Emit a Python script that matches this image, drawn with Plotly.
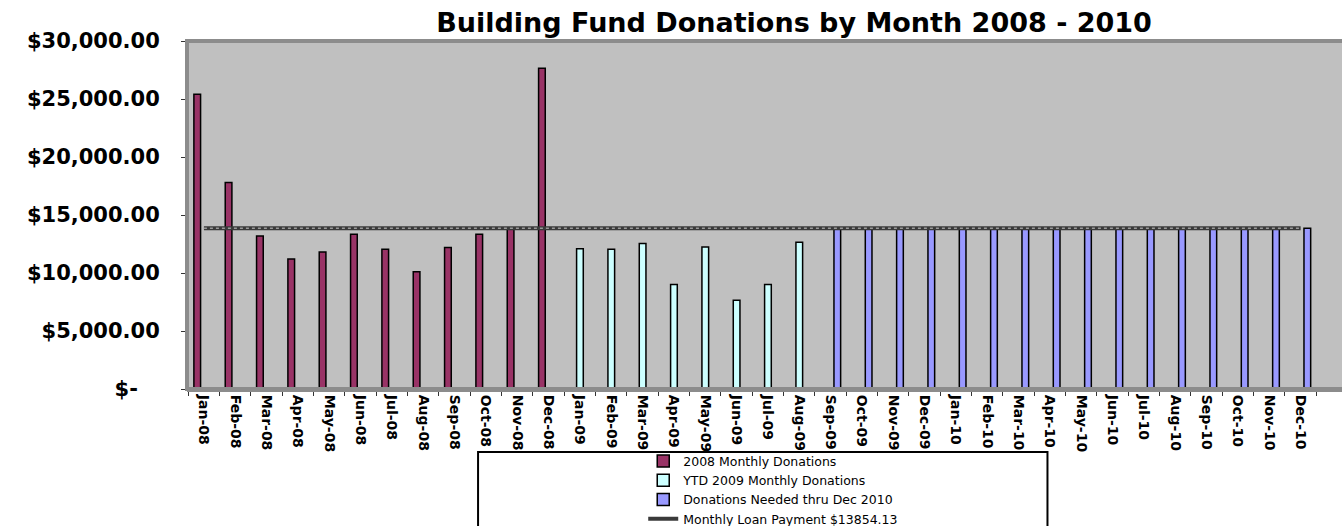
import plotly.graph_objects as go

months = ["Jan-08", "Feb-08", "Mar-08", "Apr-08", "May-08", "Jun-08", "Jul-08", "Aug-08",
          "Sep-08", "Oct-08", "Nov-08", "Dec-08",
          "Jan-09", "Feb-09", "Mar-09", "Apr-09", "May-09", "Jun-09", "Jul-09", "Aug-09",
          "Sep-09", "Oct-09", "Nov-09", "Dec-09",
          "Jan-10", "Feb-10", "Mar-10", "Apr-10", "May-10", "Jun-10", "Jul-10", "Aug-10",
          "Sep-10", "Oct-10", "Nov-10", "Dec-10"]

donations_2008 = [25400, 17800, 13200, 11200, 11800, 13350, 12050, 10100, 12200, 13350, 13900, 27650]
donations_2009_ytd = [12100, 12050, 12550, 9000, 12250, 7650, 9000, 12650]
donations_needed = [13854.13, 13854.13, 13854.13, 13854.13, 13854.13, 13854.13, 13854.13, 13854.13,
                    13854.13, 13854.13, 13854.13, 13854.13, 13854.13, 13854.13, 13854.13, 13854.13]
loan_payment = 13854.13

y_tick_values = [0, 5000, 10000, 15000, 20000, 25000, 30000]
y_tick_labels = ["$-\u00a0\u00a0\u00a0", "$5,000.00", "$10,000.00", "$15,000.00",
                 "$20,000.00", "$25,000.00", "$30,000.00"]

n = len(months)
n08 = len(donations_2008)
n09 = len(donations_2009_ytd)
s2008 = donations_2008 + [None] * (n - n08)
s2009 = [None] * n08 + donations_2009_ytd + [None] * (n - n08 - n09)
sneed = [None] * (n08 + n09) + donations_needed
sloan = [loan_payment] * n

fig = go.Figure()
fig.add_trace(go.Bar(x=months, y=s2008, name="2008 Monthly Donations",
                     marker=dict(color="#993366", line=dict(color="black", width=1.5))))
fig.add_trace(go.Bar(x=months, y=s2009, name="YTD 2009 Monthly Donations",
                     marker=dict(color="#CCFFFF", line=dict(color="black", width=1.5))))
fig.add_trace(go.Bar(x=months, y=sneed, name="Donations Needed thru Dec 2010",
                     marker=dict(color="#9999FF", line=dict(color="black", width=1.5))))
fig.add_trace(go.Scatter(x=months, y=sloan, mode="lines",
                         name="Monthly Loan Payment $13854.13",
                         line=dict(color="#3a3a3a", width=4)))
fig.add_trace(go.Scatter(x=months, y=sloan, mode="lines", showlegend=False,
                         line=dict(color="#9a9a9a", width=1.5, dash="dot"),
                         hoverinfo="skip"))

fig.update_layout(
    width=1342, height=526,
    margin=dict(l=187, r=0, t=41, b=137, autoexpand=False),
    paper_bgcolor="white",
    plot_bgcolor="#C0C0C0",
    barmode="group",
    bargap=0.36,
    bargroupgap=0,
    title=dict(text="<b>Building Fund Donations by Month 2008 - 2010</b>",
               x=0.5917, xref="container", xanchor="center",
               y=0.958, yref="container", yanchor="middle",
               font=dict(family="DejaVu Sans", size=27, color="black")),
    legend=dict(x=0.395, y=-0.165, xanchor="left", yanchor="top",
                xref="paper", yref="paper",
                bgcolor="rgba(0,0,0,0)", borderwidth=0,
                font=dict(family="DejaVu Sans", size=12.5, color="black"),
                tracegroupgap=0, itemwidth=30),
    xaxis=dict(type="category", range=[-0.54, 36.32],
               tickangle=90, tickson="boundaries",
               ticks="outside", ticklen=4, tickcolor="#333333",
               showline=True, linecolor="#8c8c8c", linewidth=3,
               showgrid=False, zeroline=False, automargin=False,
               tickfont=dict(family="DejaVu Sans", size=14, color="black", weight="bold")),
    yaxis=dict(range=[0, 30000], tickvals=y_tick_values, ticktext=y_tick_labels,
               ticks="outside", ticklen=5, tickcolor="#333333",
               showline=False, showgrid=False, zeroline=False, automargin=False,
               ticklabelstandoff=17,
               tickfont=dict(family="DejaVu Sans", size=21, color="black", weight="bold")),
    shapes=[
        dict(type="rect", xref="paper", yref="paper", x0=0, x1=1.02, y0=0, y1=1,
             line=dict(color="#8c8c8c", width=4), fillcolor="rgba(0,0,0,0)", layer="above"),
        dict(type="rect", xref="paper", yref="paper", x0=0.252, x1=0.745, y0=-0.45, y1=-0.181,
             line=dict(color="black", width=2), fillcolor="rgba(0,0,0,0)", layer="above"),
    ],
)

fig.write_html("out.html", config={"displayModeBar": False},
               post_script="document.body.style.margin='0';document.body.style.overflow='hidden';")
